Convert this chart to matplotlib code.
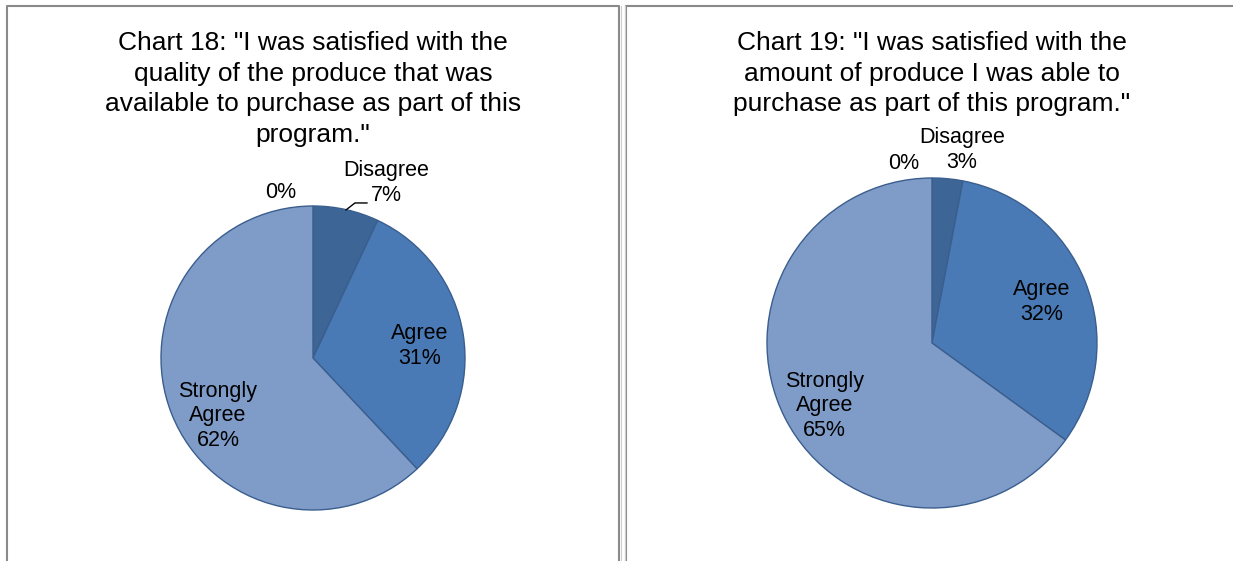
from matplotlib import pyplot as plt

plt.rcParams['font.family'] = ['Liberation Sans', 'DejaVu Sans']

W, H = 1233, 561

# chart 18
labels_18 = ['Disagree', 'Agree', 'Strongly\nAgree', '']
values_18 = [7, 31, 62, 0]
title_18 = 'Chart 18: "I was satisfied with the\nquality of the produce that was\navailable to purchase as part of this\nprogram."'

# chart 19
labels_19 = ['Disagree', 'Agree', 'Strongly\nAgree', '']
values_19 = [3, 32, 65, 0]
title_19 = 'Chart 19: "I was satisfied with the\namount of produce I was able to\npurchase as part of this program."'

colors = ['#3d6697', '#4a7ab5', '#7f9cc9', '#2c4d7a']
edge = '#3a5e8e'

fig = plt.figure(figsize=(W / 100, H / 100), dpi=100)

# frame lines round the two panels, drawn in pixel coordinates
bg = fig.add_axes([0, 0, 1, 1])
bg.set_xlim(0, W)
bg.set_ylim(H, 0)
bg.axis('off')
gray = '#8a8a8a'
bg.plot([7, 7, 619, 619], [H, 5.5, 5.5, H], color=gray, lw=1.5, solid_capstyle='butt')
bg.plot([620.5, 620.5], [6, H], color='#cfcfcf', lw=0.8)
bg.plot([626, 626, W], [H, 5.5, 5.5], color=gray, lw=1.5, solid_capstyle='butt')
bg.plot([624.5, 624.5], [6, H], color='#cfcfcf', lw=0.8)


def draw_pie(cx, cy, r, values, labels, title, label_pos, zero_pos, leader=None):
    ax = fig.add_axes([(cx - r) / W, (H - cy - r) / H, 2 * r / W, 2 * r / H])
    ax.pie(values, colors=colors, startangle=90, counterclock=False, radius=1,
           wedgeprops=dict(edgecolor=edge, linewidth=1.0))
    ax.set_xlim(-1, 1)
    ax.set_ylim(-1, 1)
    ax.axis('off')
    for lab, v, (x, y) in zip(labels, values, label_pos):
        ax.text(x, y, '{}\n{}%'.format(lab, v), ha='center', va='center',
                fontsize=15.5, linespacing=1.22, clip_on=False)
    ax.text(zero_pos[0], zero_pos[1], '0%', ha='center', va='center',
            fontsize=15.5, clip_on=False)
    if leader is not None:
        ax.plot(leader[0], leader[1], color='black', lw=1, clip_on=False)
    fig.text(cx / W, 1 - 31 / H, title, ha='center', va='top', fontsize=19,
             linespacing=1.35)


draw_pie(313, 358, 152, values_18[:3], labels_18[:3], title_18,
         [(0.48, 1.15), (0.70, 0.08), (-0.625, -0.38)], (-0.21, 1.09),
         leader=([0.217, 0.276, 0.355], [0.974, 1.02, 1.02]))
draw_pie(932, 343, 165, values_19[:3], labels_19[:3], title_19,
         [(0.18, 1.17), (0.667, 0.248), (-0.65, -0.38)], (-0.17, 1.085))

plt.savefig('out.png', dpi=100)
